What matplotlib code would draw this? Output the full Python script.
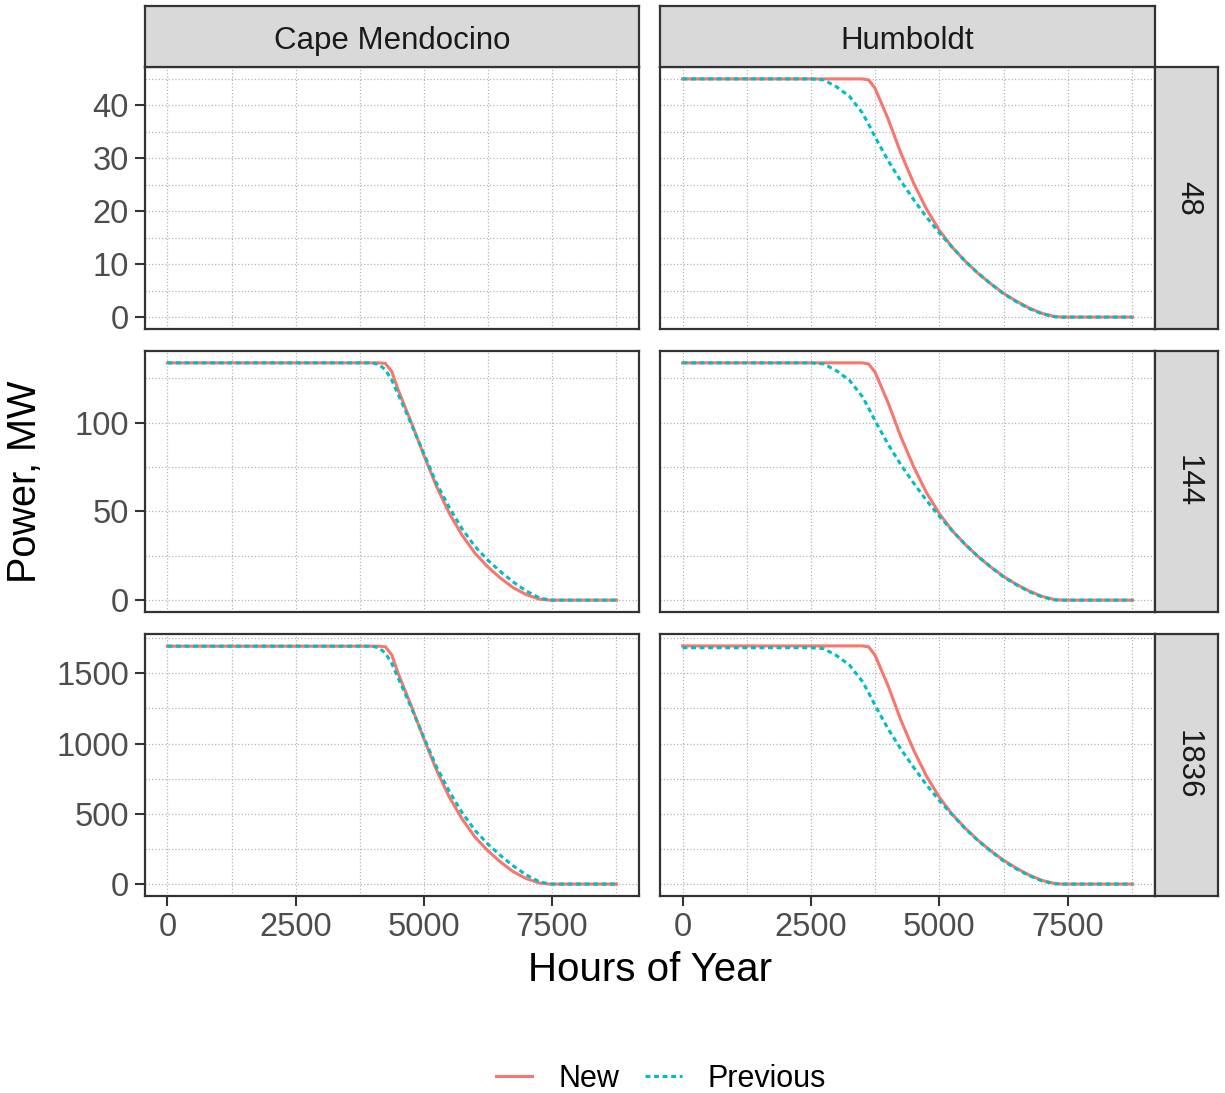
import matplotlib
matplotlib.use('Agg')
import matplotlib.pyplot as plt
from matplotlib.ticker import MultipleLocator
from matplotlib.lines import Line2D

plt.rcParams['font.family'] = ['Liberation Sans', 'DejaVu Sans']

# ---- data ----
sites = ['Cape Mendocino', 'Humboldt']
rows = ['48', '144', '1836']

cape_hours = [0, 4000, 4125, 4250, 4375, 4500, 4625, 4750, 5000, 5250, 5500,
              5750, 6000, 6250, 6500, 6750, 7000, 7250, 7450, 8760]
cape_144_new = [133.8, 133.8, 133.8, 133.5, 129.0, 118.6, 109.6, 100.7, 81.8, 64.0,
                48.8, 36.5, 26.4, 18.7, 12.3, 6.9, 3.1, 0.6, 0, 0]
cape_144_prev = [133.8, 133.8, 132.8, 130.0, 124.1, 116.0, 108.0, 99.6, 82.7, 65.8,
                 52.1, 40.1, 30.2, 22.5, 16.0, 10.1, 5.1, 1.4, 0, 0]
cape_1836_new = [1693, 1693, 1693, 1689, 1632, 1500, 1386, 1274, 1035, 810,
                 617, 462, 334, 237, 156, 87, 39, 8, 0, 0]
cape_1836_prev = [1693, 1693, 1680, 1645, 1570, 1467, 1366, 1260, 1046, 832,
                  659, 507, 382, 285, 202, 128, 65, 18, 0, 0]

hum_hours = [0, 2500, 2750, 3000, 3250, 3500, 3625, 3750, 4000, 4250, 4500, 4750,
             5000, 5250, 5500, 5750, 6000, 6250, 6500, 6750, 7000, 7250, 7400, 8760]
hum_48_new = [45, 45, 45, 45, 45, 45, 44.8, 43.2, 37.5, 31.0, 25.3, 20.4,
              16.4, 13.2, 10.6, 8.3, 6.3, 4.5, 3.0, 1.7, 0.7, 0.1, 0, 0]
hum_48_prev = [45, 45, 44.8, 43.5, 41.7, 38.6, 36.4, 34.0, 29.6, 25.7, 22.2, 18.9,
               15.9, 13.2, 10.6, 8.3, 6.3, 4.4, 2.9, 1.6, 0.6, 0.05, 0, 0]
hum_144_new = [133.8, 133.8, 133.8, 133.8, 133.8, 133.8, 133.2, 128.4, 111.5, 92.2, 75.2, 60.6,
               48.8, 39.2, 31.5, 24.7, 18.7, 13.4, 8.9, 5.1, 2.1, 0.3, 0, 0]
hum_144_prev = [133.8, 133.8, 133.2, 129.3, 124.0, 114.8, 108.2, 101.1, 88.0, 76.4, 66.0, 56.2,
                47.3, 39.2, 31.5, 24.7, 18.7, 13.1, 8.6, 4.8, 1.8, 0.1, 0, 0]
hum_1836_new = [1695, 1695, 1695, 1695, 1695, 1695, 1688, 1627, 1413, 1168, 953, 768,
                618, 497, 399, 313, 237, 170, 113, 64, 26, 4, 0, 0]
hum_1836_prev = [1682, 1682, 1675, 1626, 1559, 1443, 1361, 1271, 1106, 961, 830, 706,
                 594, 494, 396, 310, 235, 164, 108, 60, 22, 2, 0, 0]

# (hours, new, previous) per panel; None = empty panel
panels = {
    ('48', 'Cape Mendocino'): None,
    ('48', 'Humboldt'): (hum_hours, hum_48_new, hum_48_prev),
    ('144', 'Cape Mendocino'): (cape_hours, cape_144_new, cape_144_prev),
    ('144', 'Humboldt'): (hum_hours, hum_144_new, hum_144_prev),
    ('1836', 'Cape Mendocino'): (cape_hours, cape_1836_new, cape_1836_prev),
    ('1836', 'Humboldt'): (hum_hours, hum_1836_new, hum_1836_prev),
}
row_ylim = {'48': (0, 45), '144': (0, 133.8), '1836': (0, 1695)}
row_major = {'48': 10, '144': 50, '1836': 500}

NEW_COL = '#F8766D'
PREV_COL = '#00BFC4'
DARK = '#333333'
W, H = 1225, 1093
DASH = (0, (1.6, 1.2))

def px(x0, y0, x1, y1):
    return [x0 / W, 1 - y1 / H, (x1 - x0) / W, (y1 - y0) / H]

def strip(rect, label, rot=0):
    sax = fig.add_axes(rect)
    sax.set_facecolor('#D9D9D9')
    sax.set_xticks([]); sax.set_yticks([])
    for s in sax.spines.values():
        s.set_color(DARK); s.set_linewidth(1.6)
    if rot:
        sax.text(0.52, 0.5, label, ha='center', va='center', fontsize=22.5,
                 rotation=rot, color='#1A1A1A', transform=sax.transAxes)
    else:
        sax.text(0.5, 0.43, label, ha='center', va='center', fontsize=22.5,
                 color='#1A1A1A', transform=sax.transAxes)

col_x = [(145, 639), (660, 1155)]
row_y = [(67, 329), (351, 612), (634, 896)]

fig = plt.figure(figsize=(12.25, 10.93), dpi=100)

for r, rname in enumerate(rows):
    for c, site in enumerate(sites):
        ax = fig.add_axes(px(col_x[c][0], row_y[r][0], col_x[c][1], row_y[r][1]))
        data = panels[(rname, site)]
        if data is not None:
            hrs, new, prev = data
            ax.plot(hrs, new, color=NEW_COL, lw=2.2, solid_joinstyle='round')
            ax.plot(hrs, prev, color=PREV_COL, lw=2.2, linestyle=DASH)
        ylo, yhi = row_ylim[rname]
        pad = (yhi - ylo) * 0.05
        ax.set_ylim(ylo - pad, yhi + pad)
        ax.set_xlim(-438, 9198)
        ax.xaxis.set_major_locator(MultipleLocator(2500))
        ax.xaxis.set_minor_locator(MultipleLocator(1250))
        ax.yaxis.set_major_locator(MultipleLocator(row_major[rname]))
        ax.yaxis.set_minor_locator(MultipleLocator(row_major[rname] / 2))
        ax.grid(which='both', color='#b5b5b5', linestyle=':', linewidth=0.9)
        ax.set_axisbelow(True)
        for s in ax.spines.values():
            s.set_color(DARK)
            s.set_linewidth(1.6)
        ax.tick_params(which='major', length=7, width=1.5, color=DARK,
                       labelsize=23.5, labelcolor='#4D4D4D', pad=4.5)
        ax.tick_params(which='minor', length=0)
        if c != 0:
            ax.tick_params(axis='y', which='both', left=False, labelleft=False)
        if r != 2:
            ax.tick_params(axis='x', which='both', bottom=False, labelbottom=False)

        if r == 0:
            strip(px(col_x[c][0], 6, col_x[c][1], 67), site)
        if c == 1:
            strip(px(1155, row_y[r][0], 1218, row_y[r][1]), rname, rot=270)

fig.text(650 / W, 1 - 970 / H, 'Hours of Year', ha='center', va='center', fontsize=29)
fig.text(25 / W, 1 - 482 / H, 'Power, MW', ha='center', va='center', fontsize=28.5,
         rotation=90)

handles = [Line2D([], [], color=NEW_COL, lw=2.2),
           Line2D([], [], color=PREV_COL, lw=2.2, linestyle=DASH)]
fig.legend(handles, ['New', 'Previous'], loc='center', ncol=2, frameon=False,
           bbox_to_anchor=(661 / W, 1 - 1079 / H), fontsize=22, handlelength=1.2,
           columnspacing=0.85, handletextpad=0.85)

fig.savefig('out.png', dpi=100, facecolor='white')
